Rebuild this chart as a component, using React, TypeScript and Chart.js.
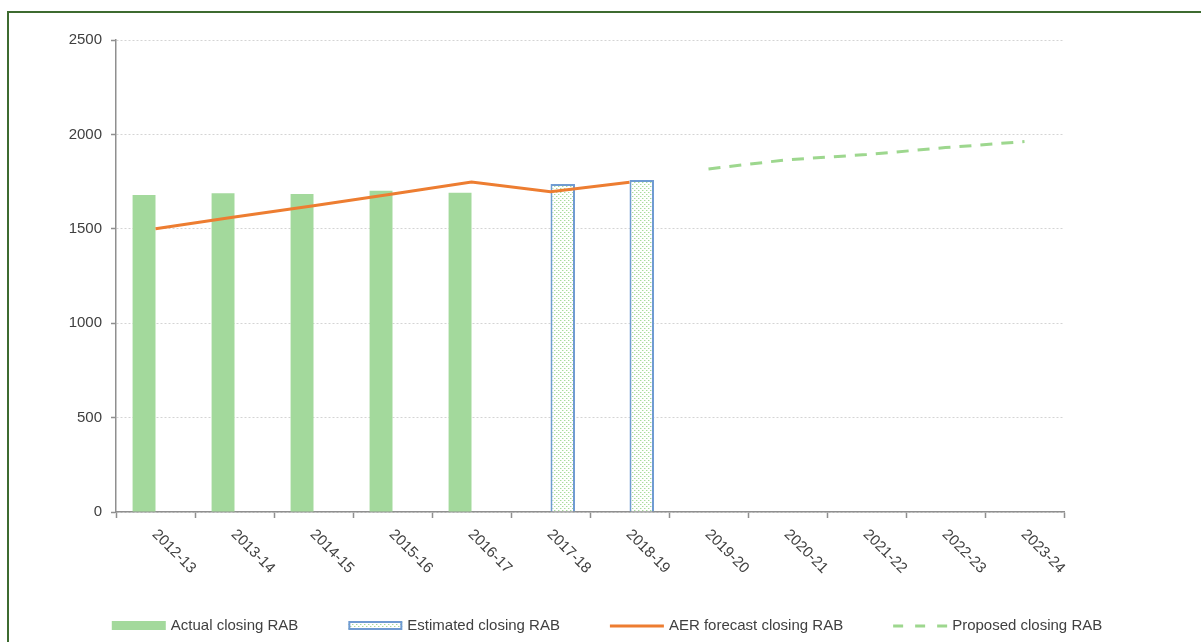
import React, { useEffect, useRef } from "react";
import { Chart, registerables } from "chart.js";

Chart.register(...registerables);

const categories = [
  "2012-13", "2013-14", "2014-15", "2015-16", "2016-17", "2017-18",
  "2018-19", "2019-20", "2020-21", "2021-22", "2022-23", "2023-24",
];
const actualClosing = [1679, 1688, 1684, 1702, 1691, null, null, null, null, null, null, null];
const estimatedClosing = [null, null, null, null, null, 1737, 1758, null, null, null, null, null];
const aerForecast = [1500, 1562, 1622, 1684, 1748, 1696, 1746, null, null, null, null, null];
const proposedClosing = [null, null, null, null, null, null, null, 1817, 1866, 1893, 1930, 1962];
const yMin = 0;
const yMax = 2500;
const yStep = 500;
const seriesLabels = [
  "Actual closing RAB",
  "Estimated closing RAB",
  "AER forecast closing RAB",
  "Proposed closing RAB",
];

const FONT_FAMILY = '"Liberation Sans", Arial, sans-serif';
const FONT_SIZE = 15;
const TEXT_COLOR = "#404040";
const ACTUAL_COLOR = "#a3d99c";
const EST_BORDER = "#6f9bd2";
const AER_COLOR = "#ed7d31";
const PROPOSED_COLOR = "#9dd78e";
const AXIS_COLOR = "#8f8f8f";

function makePattern(): CanvasPattern | string {
  const c = document.createElement("canvas");
  c.width = 4;
  c.height = 4;
  const g = c.getContext("2d");
  if (!g) return "#ffffff";
  g.fillStyle = "#ffffff";
  g.fillRect(0, 0, 4, 4);
  g.fillStyle = "#a9dc9c";
  g.fillRect(0, 0, 1, 1);
  g.fillRect(2, 2, 1, 1);
  g.fillStyle = "#dcf0d6";
  g.fillRect(1, 0, 1, 1);
  g.fillRect(3, 2, 1, 1);
  const p = g.createPattern(c, "repeat");
  return p || "#ffffff";
}

export default function App() {
  const ref = useRef<HTMLCanvasElement>(null);

  useEffect(() => {
    if (!ref.current) return;
    const pattern = makePattern();

    const xLabelsPlugin = {
      id: "xLabelsRotated",
      afterDraw(chart: any) {
        const ctx = chart.ctx;
        const xs = chart.scales.x;
        ctx.save();
        ctx.font = `${FONT_SIZE}px ${FONT_FAMILY}`;
        ctx.fillStyle = TEXT_COLOR;
        ctx.textAlign = "left";
        ctx.textBaseline = "middle";
        categories.forEach((c, i) => {
          const x = xs.getPixelForValue(i);
          ctx.save();
          ctx.translate(x - 1, xs.top + 20);
          ctx.rotate(Math.PI / 4);
          ctx.fillText(c, 0, 0);
          ctx.restore();
        });
        ctx.restore();
      },
    };

    const legendPlugin = {
      id: "customLegend",
      afterDraw(chart: any) {
        const ctx = chart.ctx;
        ctx.save();
        ctx.font = `${FONT_SIZE}px ${FONT_FAMILY}`;
        const symW = 54;
        const gap = 5;
        const itemGap = 50;
        const widths = seriesLabels.map((l) => symW + gap + ctx.measureText(l).width);
        const total = widths.reduce((a, b) => a + b, 0) + itemGap * (widths.length - 1);
        let x = 607 - total / 2;
        const yc = 626;
        seriesLabels.forEach((label, i) => {
          if (i === 0) {
            ctx.fillStyle = ACTUAL_COLOR;
            ctx.fillRect(x, yc - 5, symW, 9);
          } else if (i === 1) {
            ctx.fillStyle = pattern;
            ctx.fillRect(x, yc - 5, symW, 9);
            ctx.strokeStyle = EST_BORDER;
            ctx.lineWidth = 2;
            ctx.strokeRect(x + 1, yc - 4, symW - 2, 7);
          } else if (i === 2) {
            ctx.strokeStyle = AER_COLOR;
            ctx.lineWidth = 3;
            ctx.beginPath();
            ctx.moveTo(x, yc);
            ctx.lineTo(x + symW, yc);
            ctx.stroke();
          } else {
            ctx.strokeStyle = PROPOSED_COLOR;
            ctx.lineWidth = 3;
            ctx.setLineDash([10, 12]);
            ctx.beginPath();
            ctx.moveTo(x, yc);
            ctx.lineTo(x + symW, yc);
            ctx.stroke();
            ctx.setLineDash([]);
          }
          ctx.fillStyle = TEXT_COLOR;
          ctx.textAlign = "left";
          ctx.textBaseline = "middle";
          ctx.fillText(label, x + symW + gap, yc);
          x += widths[i] + itemGap;
        });
        ctx.restore();
      },
    };

    const chart = new Chart(ref.current, {
      type: "bar",
      data: {
        labels: categories,
        datasets: [
          {
            type: "bar",
            label: seriesLabels[0],
            data: actualClosing,
            backgroundColor: ACTUAL_COLOR,
            borderWidth: 0,
            categoryPercentage: 0.58,
            barPercentage: 1.0,
            order: 2,
          },
          {
            type: "bar",
            label: seriesLabels[1],
            data: estimatedClosing,
            backgroundColor: pattern as any,
            borderColor: EST_BORDER,
            borderWidth: 2,
            categoryPercentage: 0.62,
            barPercentage: 1.0,
            order: 2,
          },
          {
            type: "line",
            label: seriesLabels[2],
            data: aerForecast,
            borderColor: AER_COLOR,
            backgroundColor: AER_COLOR,
            borderWidth: 3,
            pointRadius: 0,
            tension: 0,
            spanGaps: false,
            order: 1,
          },
          {
            type: "line",
            label: seriesLabels[3],
            data: proposedClosing,
            borderColor: PROPOSED_COLOR,
            backgroundColor: PROPOSED_COLOR,
            borderWidth: 3,
            borderDash: [12, 9],
            pointRadius: 0,
            tension: 0,
            order: 1,
          },
        ] as any,
      },
      options: {
        responsive: false,
        animation: false,
        devicePixelRatio: 1,
        layout: { padding: { left: 0, top: 40, right: 137, bottom: 0 } },
        plugins: {
          legend: { display: false },
          tooltip: { enabled: false },
        },
        scales: {
          x: {
            offset: true,
            grid: {
              display: true,
              offset: true,
              drawOnChartArea: false,
              drawTicks: true,
              tickLength: 6,
              tickColor: AXIS_COLOR,
              tickWidth: 1.5,
            },
            border: { display: true, color: AXIS_COLOR, width: 1.5 },
            ticks: { display: false },
            afterFit: (scale: any) => {
              scale.height = 130;
            },
          },
          y: {
            min: yMin,
            max: yMax,
            ticks: {
              stepSize: yStep,
              color: TEXT_COLOR,
              font: { family: FONT_FAMILY, size: FONT_SIZE },
              padding: 9,
              callback: (v: any) => String(v),
            },
            grid: {
              color: "#d4d4d4",
              lineWidth: 1,
              tickLength: 5,
              tickColor: AXIS_COLOR,
              tickWidth: 1.5,
            },
            border: { display: true, color: AXIS_COLOR, width: 1.5, dash: [2, 2] },
            afterFit: (scale: any) => {
              scale.width = 116;
            },
          },
        },
      },
      plugins: [xLabelsPlugin, legendPlugin],
    });

    return () => chart.destroy();
  }, []);

  return (
    <>
      <div
        style={{
          position: "fixed",
          left: 7,
          top: 11,
          width: 1230,
          height: 700,
          border: "2px solid #3d6b30",
          boxSizing: "border-box",
          background: "#ffffff",
        }}
      />
      <canvas
        ref={ref}
        width={1201}
        height={642}
        style={{ position: "fixed", left: 0, top: 0, width: 1201, height: 642 }}
      />
    </>
  );
}
